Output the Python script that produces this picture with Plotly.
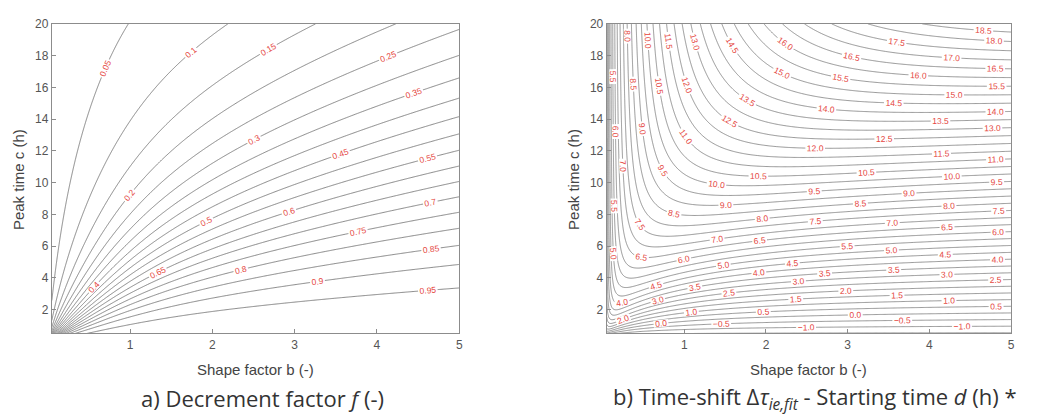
import numpy as np
import plotly.graph_objects as go

# ---- axes ----
b_range = [0.05, 5.0]          # shape factor b (-)
c_range = [0.5, 20.0]          # peak time c (h)
x_ticks = [1, 2, 3, 4, 5]
y_ticks = [2, 4, 6, 8, 10, 12, 14, 16, 18, 20]

# ---- contour levels ----
f_levels = [0.05, 0.95, 0.05]       # decrement factor f (-): start, end, step
t_levels = [-1.5, 20.0, 0.5]        # time-shift minus starting time (h)

# ---- response-model parameters estimated from the contour positions ----
omega_f = 0.195                      # angular frequency fitted to the f contours (rad/h)
f_small_b = [0.8, 0.5]               # low-b correction of the f contours (amplitude, decay)
omega_t = 0.17                       # angular frequency fitted to the time-shift contours (rad/h)
d_offset = [2.06, 0.45, 0.05]        # starting-time term d0 + d1/(b + d2) (h)

# ---- fields on the (b, c) grid ----
b = np.linspace(b_range[0], b_range[1], 450)
c = np.linspace(c_range[0], c_range[1], 450)
B, C = np.meshgrid(b, c)
w_eff = omega_f * (1.0 + f_small_b[0] * np.exp(-B / f_small_b[1]))
F = (1.0 + (w_eff * C / B) ** 2) ** (-(B + 1.0) / 2.0)
T = (B + 1.0) * np.arctan(omega_t * C / B) / omega_t - (d_offset[0] + d_offset[1] / (B + d_offset[2]))

LINE = "#6a6a6a"
LABEL = "#e5483f"
gray = [[0, LINE], [1, LINE]]

fig = go.Figure()
fig.add_trace(go.Contour(
    x=b, y=c, z=F, xaxis="x", yaxis="y",
    autocontour=False,
    contours=dict(start=f_levels[0], end=f_levels[1], size=f_levels[2],
                  coloring="lines", showlabels=True,
                  labelfont=dict(size=8.5, color=LABEL, family="Liberation Sans"),
                  labelformat=".2~f"),
    colorscale=gray, showscale=False, line=dict(width=0.8), hoverinfo="skip"))
fig.add_trace(go.Contour(
    x=b, y=c, z=T, xaxis="x2", yaxis="y2",
    autocontour=False,
    contours=dict(start=t_levels[0], end=t_levels[1], size=t_levels[2],
                  coloring="lines", showlabels=True,
                  labelfont=dict(size=8.5, color=LABEL, family="Liberation Sans"),
                  labelformat=".1f"),
    colorscale=gray, showscale=False, line=dict(width=0.7), hoverinfo="skip"))

# the page body has an 8 px margin: size the figure to the rest of the window
OFF = 8
W, H = 1043 - OFF, 418 - OFF
def px(x):
    return (x - OFF) / W
def py(y):
    return 1 - (y - OFF) / H

ydom = [py(332), py(17)]
axis_common = dict(showgrid=False, zeroline=False, showline=True, linecolor="#8c8c8c",
                   linewidth=1, mirror=True, ticks="inside", ticklen=4, tickcolor="#8c8c8c",
                   tickfont=dict(family="Liberation Sans", size=12, color="#555555"))
fig.update_layout(
    width=W, height=H, margin=dict(l=0, r=0, t=0, b=0),
    paper_bgcolor="white", plot_bgcolor="white", showlegend=False,
    xaxis=dict(domain=[px(52), px(461)], range=b_range, tickvals=x_ticks, anchor="y", **axis_common),
    yaxis=dict(domain=ydom, range=c_range, tickvals=y_ticks, anchor="x", **axis_common),
    xaxis2=dict(domain=[px(609), px(1015)], range=b_range, tickvals=x_ticks, anchor="y2", **axis_common),
    yaxis2=dict(domain=ydom, range=c_range, tickvals=y_ticks, anchor="x2", **axis_common),
)

tfont = dict(family="Liberation Sans", size=15, color="#444444")
cfont = dict(family="Open Sans", size=22, color="#333333")
ann = [
    dict(text="Shape factor b (-)", x=px(256.5), y=py(369), font=tfont),
    dict(text="Shape factor b (-)", x=px(812), y=py(369), font=tfont),
    dict(text="Peak time c (h)", x=px(18), y=py(175), font=tfont, textangle=-90),
    dict(text="Peak time c (h)", x=px(575), y=py(175), font=tfont, textangle=-90),
    dict(text="a) Decrement factor <i>f</i> (-)", x=px(263), y=py(398), font=cfont),
    dict(text="b) Time-shift Δ<i>τ</i><sub><i>ie,fit</i></sub> - Starting time <i>d</i> (h) *",
         x=px(818), y=py(398), font=cfont),
]
for a in ann:
    a.update(xref="paper", yref="paper", showarrow=False, xanchor="center", yanchor="middle")
    fig.add_annotation(**a)

fig.write_html("out.html")
